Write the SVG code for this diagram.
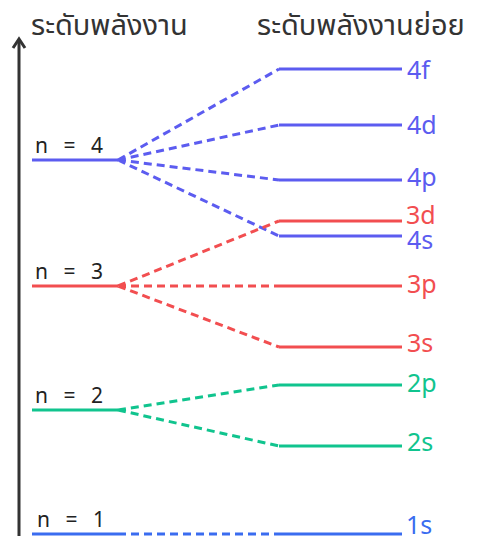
<svg xmlns="http://www.w3.org/2000/svg" width="480" height="536" viewBox="0 0 480 536">
<style>
.t{font-family:"Noto Sans","Noto Sans Thai","DejaVu Sans",sans-serif}
.title{font-size:29px;fill:#333}
.n{font-size:21px;fill:#222;word-spacing:10px}
.lab{font-size:25px}
.lv{stroke-width:3;fill:none}
.d{stroke-width:3;fill:none;stroke-dasharray:8 5}
.b{stroke:#5c5cf0}.r{stroke:#f24e50}.g{stroke:#10c48e}.k{stroke:#3a6cf0}
.fb{fill:#5c5cf0}.fr{fill:#f24e50}.fg{fill:#10c48e}.fk{fill:#3a6cf0}
</style>
<rect width="480" height="536" fill="#fff"/>
<g id="axis">
<line x1="19" y1="40" x2="19" y2="536" stroke="#333" stroke-width="3"/>
<polyline points="13,48 19,39 25,48" fill="none" stroke="#333" stroke-width="3"/>
</g>
<g id="titles" class="t title">
<text x="31" y="35">ระดับพลังงาน</text>
<text x="257" y="35">ระดับพลังงานย่อย</text>
</g>
<g id="connectors">
<path class="d b" d="M118 160 L279 69 M118 160 L279 125 M118 160 L279 180 M118 160 L279 236"/>
<path class="d r" d="M118 286 L279 221 M118 286 L279 286 M118 286 L279 347"/>
<path class="d g" d="M118 410 L279 385 M118 410 L279 446"/>
<path class="d k" d="M118 534 L279 534"/>
</g>
<g id="n4"><line class="lv b" x1="32" y1="160" x2="118" y2="160"/><text class="t n" x="35" y="153">n = 4</text></g>
<g id="n3"><line class="lv r" x1="32" y1="286" x2="118" y2="286"/><text class="t n" x="35" y="279">n = 3</text></g>
<g id="n2"><line class="lv g" x1="32" y1="410" x2="118" y2="410"/><text class="t n" x="35" y="403">n = 2</text></g>
<g id="n1"><line class="lv k" x1="32" y1="534" x2="118" y2="534"/><text class="t n" x="37" y="527">n = 1</text></g>
<g id="s4f"><line class="lv b" x1="279" y1="69" x2="402" y2="69"/><text class="t lab fb" x="407" y="79">4f</text></g>
<g id="s4d"><line class="lv b" x1="279" y1="125" x2="402" y2="125"/><text class="t lab fb" x="407" y="134">4d</text></g>
<g id="s4p"><line class="lv b" x1="279" y1="180" x2="402" y2="180"/><text class="t lab fb" x="407" y="186">4p</text></g>
<g id="s3d"><line class="lv r" x1="279" y1="221" x2="402" y2="221"/><text class="t lab fr" x="406" y="224">3d</text></g>
<g id="s4s"><line class="lv b" x1="279" y1="236" x2="402" y2="236"/><text class="t lab fb" x="407" y="249">4s</text></g>
<g id="s3p"><line class="lv r" x1="279" y1="286" x2="402" y2="286"/><text class="t lab fr" x="407" y="293">3p</text></g>
<g id="s3s"><line class="lv r" x1="279" y1="347" x2="402" y2="347"/><text class="t lab fr" x="407" y="352">3s</text></g>
<g id="s2p"><line class="lv g" x1="279" y1="385" x2="402" y2="385"/><text class="t lab fg" x="407" y="392">2p</text></g>
<g id="s2s"><line class="lv g" x1="279" y1="446" x2="402" y2="446"/><text class="t lab fg" x="407" y="451">2s</text></g>
<g id="s1s"><line class="lv k" x1="279" y1="534" x2="402" y2="534"/><text class="t lab fk" x="406" y="534">1s</text></g>
</svg>
